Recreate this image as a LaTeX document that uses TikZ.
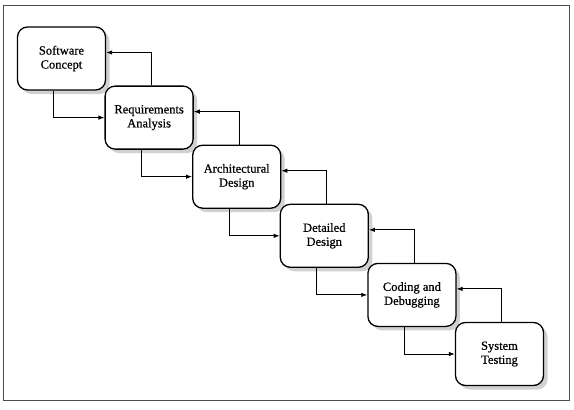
\documentclass[tikz,border=0pt]{standalone}
\usepackage{fontspec}
\setmainfont{Liberation Serif}[FakeBold=0.6]
\usetikzlibrary{calc,shadows,arrows.meta}
\begin{document}
\begin{tikzpicture}[x=1pt,y=-1pt,
  stagebox/.style={draw=black, line width=1.3pt, rounded corners=10pt, fill=white,
    minimum width=88pt, minimum height=63pt, align=center,
    font=\fontsize{12.5}{14}\selectfont,
    drop shadow={shadow xshift=4pt, shadow yshift=-4pt, fill=black!20, opacity=0.9}},
  arr/.style={draw=black, line width=0.9pt, -{Latex[length=6pt,width=4.5pt]}},
  frame/.style={draw=black!70, line width=1pt}]
\useasboundingbox (0,0) rectangle (574,410);
\draw[frame] (3,5) rectangle (569,400);
\node[stagebox] (b1) at (61.5,58.5) {Software\\Concept};
\node[stagebox] (b2) at (149.1,117.6) {Requirements\\Analysis};
\node[stagebox] (b3) at (236.7,176.7) {Architectural\\Design};
\node[stagebox] (b4) at (324.3,235.8) {Detailed\\Design};
\node[stagebox] (b5) at (411.9,294.9) {Coding and\\Debugging};
\node[stagebox] (b6) at (499.5,354) {System\\Testing};
\foreach \a/\b in {b1/b2,b2/b3,b3/b4,b4/b5,b5/b6}{
  \draw[arr] ($(\a.south west)+(37,0)$) |- (\b.west);
  \draw[arr] ($(\b.north west)+(47,0)$) |- ($(\a.east)+(0,-6)$);
}
\end{tikzpicture}
\end{document}
